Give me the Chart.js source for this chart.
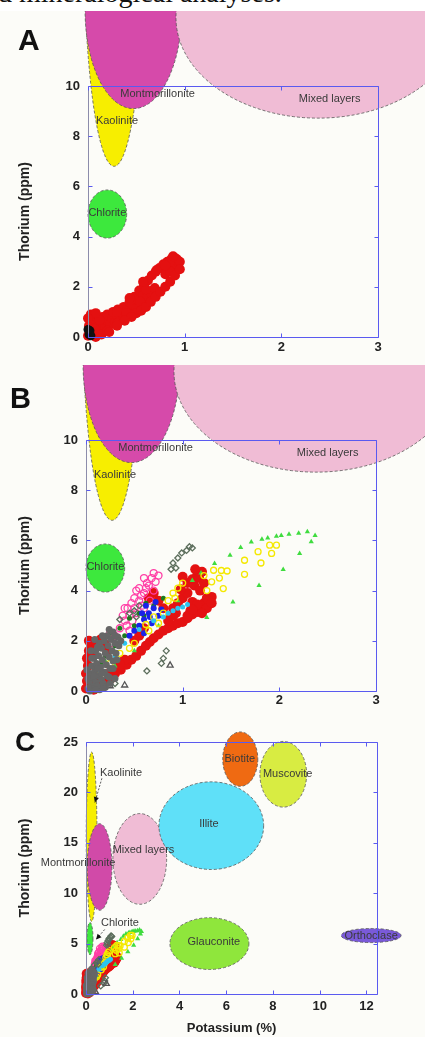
<!DOCTYPE html>
<html>
<head>
<meta charset="utf-8">
<script src="https://cdn.jsdelivr.net/npm/chart.js@4.4.1/dist/chart.umd.min.js"></script>
<style>
  html, body { margin: 0; padding: 0; width: 425px; height: 1037px; overflow: hidden; background: #fcfcf8; position: relative; }
  .strip { position: absolute; left: 0; top: 0; width: 425px; height: 11px; background: #fff; overflow: hidden; }
  .caption { position: absolute; left: -2px; top: -21px; font-family: "Liberation Serif", "Times New Roman", serif; font-size: 28px; line-height: 28px; white-space: nowrap; color: #111; }
  canvas { position: absolute; left: 0; }
  .tag { position: absolute; font-family: Arial, "Liberation Sans", sans-serif; font-weight: bold; line-height: 1; color: #111; }
</style>
</head>
<body>
<div class="strip"><div class="caption">d mineralogical analyses.</div></div>
<canvas id="panelA" width="425" height="354" style="top:11px"></canvas>
<canvas id="panelB" width="425" height="347" style="top:365px"></canvas>
<canvas id="panelC" width="425" height="330" style="top:712px"></canvas>
<div class="tag" style="left:18px; top:25px; font-size:30px">A</div>
<div class="tag" style="left:10px; top:384px; font-size:29px">B</div>
<div class="tag" style="left:15px; top:728px; font-size:28px">C</div>
<script>
// --- axis ticks ---
const kTicksAB = [0, 1, 2, 3];
const thTicksAB = [0, 2, 4, 6, 8, 10];
const kTicksC = [0, 2, 4, 6, 8, 10, 12];
const thTicksC = [0, 5, 10, 15, 20, 25];

// --- mineral fields, panels A and B (K %, Th ppm) ---
const zoneNamesAB = ['Kaolinite', 'Montmorillonite', 'Mixed layers', 'Chlorite'];
const zoneKAB = [0.27, 0.47, 2.38, 0.2];
const zoneThAB = [15.6, 13.0, 12.72, 4.9];
const zoneKRadAB = [0.31, 0.5, 1.47, 0.2];
const zoneThRadAB = [8.8, 3.9, 4.0, 0.96];
const zoneColorAB = ['#f7ee00', '#d64aaa', '#f0bcd5', '#3de83d'];
const labelKAB = [0.3, 0.72, 2.5, 0.2];
const labelThAB = [8.6, 9.7, 9.5, 4.95];

// --- mineral fields, panel C ---
const zoneNamesC = ['Kaolinite', 'Montmorillonite', 'Mixed layers', 'Illite', 'Biotite', 'Muscovite', 'Glauconite', 'Chlorite', 'Orthoclase'];
const zoneKC = [0.24, 0.58, 2.3, 5.36, 6.6, 8.44, 5.28, 0.17, 12.2];
const zoneThC = [15.6, 12.6, 13.4, 16.7, 23.3, 21.8, 5.0, 5.5, 5.8];
const zoneKRadC = [0.23, 0.53, 1.15, 2.24, 0.75, 1.0, 1.69, 0.13, 1.28];
const zoneThRadC = [8.4, 4.3, 4.5, 4.35, 2.7, 3.26, 2.57, 1.6, 0.7];
const zoneColorC = ['#f7ee00', '#d14aa8', '#f0bcd5', '#5fe0f8', '#ef6a12', '#d8ec42', '#8fe63c', '#3de83d', '#7a5ad8'];
const labelKC = [1.5, -0.34, 2.46, 5.26, 6.58, 8.63, 5.47, 1.45, 12.2];
const labelThC = [21.9, 13.0, 14.3, 16.9, 23.3, 21.8, 5.2, 7.0, 5.8];
// leader arrows [fromK, fromTh, toK, toTh]
const arrowsC = [[0.68, 21.4, 0.38, 19.0], [0.8, 6.4, 0.43, 5.4]];

// --- panel A measurements [K, Th] ---
const aRed = [
  [0.0, 0.05], [0.02, 0.25], [0.01, 0.45], [0.04, 0.15], [0.06, 0.35], [0.05, 0.55], [0.08, 0.2], [0.1, 0.45],
  [0.1, 0.7], [0.13, 0.3], [0.15, 0.55], [0.15, 0.8], [0.18, 0.4], [0.2, 0.65], [0.2, 0.9], [0.23, 0.5],
  [0.25, 0.75], [0.26, 1.0], [0.28, 0.6], [0.3, 0.85], [0.31, 1.1], [0.34, 0.7], [0.35, 0.95], [0.37, 1.2],
  [0.4, 0.85], [0.41, 1.1], [0.43, 1.4], [0.45, 1.0], [0.46, 1.3], [0.48, 1.6], [0.5, 1.15], [0.52, 1.45],
  [0.53, 1.85], [0.56, 1.35], [0.57, 1.65], [0.58, 2.05], [0.61, 1.55], [0.62, 2.25], [0.65, 1.75], [0.66, 2.45],
  [0.69, 1.95], [0.7, 2.6], [0.74, 2.75], [0.78, 2.9], [0.8, 2.5], [0.82, 3.0],
  [0.85, 2.65], [0.86, 3.1], [0.89, 2.8], [0.9, 3.15], [0.93, 3.0], [0.92, 3.1], [0.6, 1.9],
  [0.08, 0.0], [0.14, 0.1], [0.2, 0.25], [0.03, 0.7], [0.07, 0.85], [0.12, 0.68], [0.3, 1.0], [0.43, 1.55],
  [0.57, 2.2], [0.71, 2.67], [0.85, 3.0], [0.4, 0.95], [0.54, 1.4], [0.85, 2.6], [0.95, 3.0],
  [0.03, 0.9], [0.08, 0.95], [0.0, 0.75], [0.22, 0.2], [0.3, 0.55], [0.88, 3.22], [0.8, 2.85],
  [0.5, 0.95], [0.55, 1.05], [0.6, 1.2], [0.65, 1.4], [0.7, 1.6], [0.75, 1.8], [0.8, 2.0], [0.85, 2.2],
  [0.9, 2.45], [0.95, 2.7], [0.45, 0.8], [0.38, 0.65], [0.3, 0.45]
];
const aBlack = [[0.01, 0.1], [0.02, 0.25], [0.03, 0.05], [0.0, 0.3]];

// --- panels B and C measurements [K, Th] ---
const bRed = [
  [0.0, 0.1], [0.01, 0.4], [0.0, 0.7], [0.02, 1.0], [0.01, 1.3], [0.03, 1.6], [0.05, 1.85], [0.1, 1.95],
  [0.15, 2.05], [0.2, 1.85], [0.22, 1.6], [0.08, 0.05], [0.15, 0.15], [0.2, 0.35], [0.26, 0.5], [0.3, 0.7],
  [0.36, 0.85], [0.42, 1.05], [0.47, 1.25], [0.52, 1.4], [0.57, 1.6], [0.62, 1.8], [0.66, 1.95], [0.7, 2.1],
  [0.75, 2.25], [0.8, 2.4], [0.85, 2.5], [0.9, 2.6], [0.95, 2.7], [1.0, 2.75], [1.05, 2.9], [1.1, 3.05],
  [1.15, 3.15], [1.2, 3.3], [1.22, 3.5], [1.25, 3.7], [1.3, 3.75], [1.27, 3.6], [0.9, 3.3], [0.95, 3.5],
  [1.0, 3.7], [1.05, 3.9], [0.98, 4.05], [1.05, 4.3], [1.1, 4.45], [1.15, 4.6], [1.2, 4.75], [1.17, 4.5],
  [1.12, 4.2], [1.1, 3.55], [1.15, 3.45], [0.93, 3.1], [0.87, 2.95], [0.8, 3.3], [0.75, 3.6], [0.7, 3.9],
  [0.65, 3.7], [0.55, 2.2], [0.6, 2.5], [0.5, 2.0], [1.18, 4.0], [1.22, 4.3], [1.25, 3.3], [1.3, 3.5],
  [1.2, 3.1], [1.08, 3.2], [0.85, 2.8], [0.9, 3.0], [1.05, 3.0], [1.1, 3.25], [0.4, 1.25], [0.35, 1.05],
  [0.25, 0.75], [0.12, 0.45], [0.06, 0.2], [0.03, 2.0], [0.07, 1.5], [1.13, 4.85], [1.0, 4.55]
];
const bMagenta = [
  [0.3, 2.2], [0.35, 2.5], [0.4, 2.8], [0.45, 3.0], [0.5, 3.3], [0.55, 3.6], [0.6, 3.9], [0.65, 4.2],
  [0.68, 4.5], [0.72, 4.35], [0.62, 4.1], [0.52, 3.1], [0.42, 2.6], [0.38, 3.0], [0.47, 3.5], [0.57, 3.8],
  [0.33, 2.0], [0.25, 2.3], [0.6, 3.3], [0.7, 4.0], [0.75, 4.6], [0.66, 3.6], [0.28, 1.9], [0.45, 2.4],
  [0.4, 3.3], [0.5, 3.7], [0.55, 4.1], [0.6, 4.5], [0.7, 4.7], [0.63, 4.3], [0.48, 2.8], [0.58, 3.4],
  [0.43, 3.3], [0.52, 4.0]
];
const bGray = [
  [0.02, 0.1], [0.05, 0.2], [0.08, 0.1], [0.03, 0.4], [0.07, 0.5], [0.1, 0.35], [0.12, 0.2], [0.04, 0.7],
  [0.09, 0.8], [0.13, 0.6], [0.16, 0.45], [0.18, 0.3], [0.06, 1.0], [0.11, 1.1], [0.15, 0.95], [0.19, 0.75],
  [0.22, 0.6], [0.08, 1.3], [0.13, 1.4], [0.17, 1.25], [0.21, 1.05], [0.25, 0.9], [0.1, 1.6], [0.16, 1.7],
  [0.2, 1.5], [0.24, 1.35], [0.28, 1.2], [0.14, 1.9], [0.19, 2.0], [0.23, 1.8], [0.27, 1.6], [0.31, 1.5],
  [0.22, 2.2], [0.26, 2.05], [0.3, 1.9], [0.34, 1.8], [0.02, 0.5], [0.04, 0.0], [0.14, 0.05], [0.2, 0.15],
  [0.25, 0.3], [0.01, 0.85], [0.28, 2.35], [0.33, 2.15], [0.18, 0.1], [0.06, 1.3], [0.12, 1.75], [0.05, 1.6],
  [0.09, 2.05], [0.17, 2.2], [0.24, 2.45], [0.3, 2.2], [0.36, 2.0], [0.32, 1.25], [0.28, 0.9], [0.24, 0.55],
  [0.16, 0.7], [0.12, 0.9], [0.08, 0.6], [0.1, 0.05], [0.3, 0.5]
];
const bHollow = [
  [0.9, 5.1], [0.95, 5.3], [0.99, 5.5], [1.04, 5.6], [1.07, 5.75], [1.1, 5.7], [0.88, 4.85], [0.93, 4.9],
  [0.45, 3.1], [0.5, 3.2], [0.52, 2.95], [0.35, 2.85], [0.55, 3.4], [0.8, 1.3], [0.78, 1.1], [0.83, 1.6],
  [0.63, 0.8], [0.3, 0.3]
];
const bTriangle = [[0.87, 1.02], [0.4, 0.23], [0.25, 0.2]];
const bBlue = [
  [0.55, 2.6], [0.6, 2.85], [0.65, 3.1], [0.7, 3.3], [0.62, 3.4], [0.68, 2.7], [0.75, 3.0], [0.58, 3.1],
  [0.72, 3.55], [0.5, 2.4], [0.66, 2.95], [0.78, 3.25], [0.45, 2.2], [0.6, 2.3]
];
const bCyan = [
  [0.85, 3.1], [0.9, 3.2], [0.95, 3.3], [1.0, 3.35], [1.05, 3.45], [0.8, 2.95], [0.7, 2.8], [0.55, 2.45],
  [0.4, 1.9], [0.15, 0.8], [0.3, 1.4]
];
const bYellow = [
  [0.62, 2.65], [0.7, 2.95], [0.75, 2.7], [0.8, 3.1], [0.85, 3.6], [0.9, 3.9], [0.95, 4.1], [1.0, 4.3],
  [0.92, 3.7], [0.65, 2.4], [0.5, 1.9], [0.45, 1.7], [0.35, 1.5], [0.25, 1.1], [0.15, 0.7], [1.32, 4.81],
  [1.4, 4.8], [1.46, 4.78], [1.3, 4.35], [1.38, 4.5], [1.42, 4.08], [1.64, 5.21], [1.64, 4.65], [1.78, 5.55],
  [1.81, 5.1], [1.9, 5.81], [1.97, 5.81], [1.92, 5.48], [1.25, 4.0], [1.22, 4.6]
];
const bGreen = [
  [1.49, 5.41], [1.6, 5.72], [1.71, 5.94], [1.82, 6.05], [1.88, 6.1], [1.97, 6.17], [2.02, 6.2], [2.1, 6.25],
  [2.2, 6.28], [2.29, 6.34], [2.37, 6.2], [2.33, 5.95], [2.21, 5.48], [2.04, 4.84], [1.79, 4.2], [1.52, 3.55],
  [1.25, 2.93], [1.33, 5.08], [1.19, 4.7], [1.1, 4.4], [0.95, 3.6], [0.75, 2.6], [0.5, 1.6], [0.3, 1.0],
  [0.15, 0.6], [0.05, 0.3], [0.2, 1.2], [0.1, 0.9]
];
const bDarkGreen = [
  [0.3, 1.8], [0.4, 2.2], [0.5, 2.6], [0.6, 3.0], [0.7, 3.4], [0.55, 3.1], [0.45, 2.9], [0.35, 2.5],
  [0.25, 2.3], [0.62, 3.5], [0.8, 3.7], [0.2, 1.4], [0.15, 1.1]
];

const FONT = 'Arial, "Liberation Sans", Helvetica, sans-serif';

function pts(list) {
  return list.map(([x, y]) => ({ x, y }));
}

function series(list, color, radius, style, hollow) {
  return {
    data: pts(list),
    clip: false,
    pointStyle: style || 'circle',
    pointRadius: radius,
    pointBackgroundColor: hollow ? 'rgba(0,0,0,0)' : color,
    pointBorderColor: color,
    pointBorderWidth: hollow ? 1.3 : 0
  };
}

function bDatasets() {
  // first in list is drawn on top
  return [
    series(bGray, '#666666', 3.5),
    series(bTriangle, '#555555', 3.5, 'triangle', true),
    series(bHollow, '#5c6e5c', 3, 'rectRot', true),
    series(bCyan, '#2cc4f0', 2.5),
    series(bYellow, '#f4e800', 3, 'circle', true),
    series(bGreen, '#3fdc3f', 3, 'triangle'),
    series(bBlue, '#1a22e8', 3),
    series(bDarkGreen, '#1d7a1d', 2.5),
    series(bMagenta, '#ff3fa6', 3.5, 'circle', true),
    series(bRed, '#e41212', 5)
  ];
}

function drawZones(chart, z) {
  const { ctx, scales: { x, y } } = chart;
  ctx.save();
  z.names.forEach((n, i) => {
    const px = x.getPixelForValue(z.k[i]);
    const py = y.getPixelForValue(z.th[i]);
    const rx = Math.abs(x.getPixelForValue(z.k[i] + z.kr[i]) - px);
    const ry = Math.abs(y.getPixelForValue(z.th[i] + z.thr[i]) - py);
    ctx.beginPath();
    ctx.ellipse(px, py, rx, ry, 0, 0, Math.PI * 2);
    ctx.fillStyle = z.colors[i];
    ctx.fill();
    ctx.setLineDash([3, 2]);
    ctx.strokeStyle = '#555';
    ctx.lineWidth = 0.8;
    ctx.stroke();
  });
  ctx.restore();
}

function drawFrame(chart) {
  const { ctx, chartArea: a, scales: { x, y } } = chart;
  const L = Math.round(a.left) + 0.5, R = Math.round(a.right) + 0.5;
  const T = Math.round(a.top) + 0.5, B = Math.round(a.bottom) + 0.5;
  ctx.save();
  ctx.setLineDash([]);
  ctx.lineWidth = 1;
  ctx.strokeStyle = '#5a5af0';
  ctx.beginPath();
  ctx.moveTo(L, T); ctx.lineTo(R, T); ctx.lineTo(R, B); ctx.lineTo(L, B);
  ctx.stroke();
  ctx.strokeStyle = '#8c8cab';
  ctx.beginPath();
  ctx.moveTo(L, T); ctx.lineTo(L, B);
  ctx.stroke();
  ctx.strokeStyle = '#5a5af0';
  ctx.beginPath();
  x.ticks.forEach(t => {
    const p = Math.round(x.getPixelForValue(t.value)) + 0.5;
    ctx.moveTo(p, B); ctx.lineTo(p, B - 4);
    ctx.moveTo(p, T); ctx.lineTo(p, T + 4);
  });
  y.ticks.forEach(t => {
    const p = Math.round(y.getPixelForValue(t.value)) + 0.5;
    ctx.moveTo(L, p); ctx.lineTo(L + 4, p);
    ctx.moveTo(R, p); ctx.lineTo(R - 4, p);
  });
  ctx.stroke();
  ctx.restore();
}

function drawLabels(chart, z, arrows) {
  const { ctx, scales: { x, y } } = chart;
  ctx.save();
  ctx.font = '11px ' + FONT;
  ctx.fillStyle = '#3a3a3a';
  ctx.textAlign = 'center';
  ctx.textBaseline = 'middle';
  z.names.forEach((n, i) => {
    ctx.fillText(n, x.getPixelForValue(z.lk[i]), y.getPixelForValue(z.lth[i]));
  });
  (arrows || []).forEach(([k0, t0, k1, t1]) => {
    const x0 = x.getPixelForValue(k0), y0 = y.getPixelForValue(t0);
    const x1 = x.getPixelForValue(k1), y1 = y.getPixelForValue(t1);
    ctx.strokeStyle = '#333';
    ctx.lineWidth = 0.8;
    ctx.setLineDash([2, 1.5]);
    ctx.beginPath();
    ctx.moveTo(x0, y0); ctx.lineTo(x1, y1);
    ctx.stroke();
    const ang = Math.atan2(y1 - y0, x1 - x0);
    ctx.setLineDash([]);
    ctx.fillStyle = '#111';
    ctx.beginPath();
    ctx.moveTo(x1, y1);
    ctx.lineTo(x1 - 6 * Math.cos(ang - 0.45), y1 - 6 * Math.sin(ang - 0.45));
    ctx.lineTo(x1 - 6 * Math.cos(ang + 0.45), y1 - 6 * Math.sin(ang + 0.45));
    ctx.closePath();
    ctx.fill();
  });
  ctx.restore();
}

function makePanel(id, cfg) {
  const overlay = {
    id: 'overlay',
    beforeDatasetsDraw(chart) { drawZones(chart, cfg.zones); },
    afterDatasetsDraw(chart) {
      drawFrame(chart);
      drawLabels(chart, cfg.zones, cfg.arrows);
    }
  };
  const tickFont = { family: FONT, size: 13, weight: 'bold' };
  return new Chart(document.getElementById(id), {
    type: 'scatter',
    data: { datasets: cfg.datasets },
    options: {
      responsive: false,
      animation: false,
      devicePixelRatio: 1,
      events: [],
      layout: { padding: cfg.padding },
      plugins: { legend: { display: false }, tooltip: { enabled: false } },
      scales: {
        x: {
          type: 'linear',
          min: 0,
          max: cfg.kMax,
          grid: { display: false, drawTicks: false },
          border: { display: false },
          afterBuildTicks: s => { s.ticks = cfg.kTicks.map(v => ({ value: v })); },
          afterFit: s => { s.height = cfg.xAxisH; },
          ticks: { font: tickFont, color: '#222', padding: cfg.xPad, maxRotation: 0, autoSkip: false },
          title: {
            display: !!cfg.kTitle,
            text: 'Potassium (%)',
            color: '#222',
            font: { family: FONT, size: 13, weight: 'bold' },
            padding: { top: 0, bottom: 6 }
          }
        },
        y: {
          type: 'linear',
          min: 0,
          max: cfg.thMax,
          grid: { display: false, drawTicks: false },
          border: { display: false },
          afterBuildTicks: s => { s.ticks = cfg.thTicks.map(v => ({ value: v })); },
          afterFit: s => { s.width = cfg.yAxisW; },
          ticks: { font: tickFont, color: '#222', padding: 8, autoSkip: false },
          title: {
            display: true,
            text: 'Thorium (ppm)',
            color: '#222',
            font: { family: FONT, size: 14, weight: 'bold' },
            padding: { top: 16.6, bottom: 0 }
          }
        }
      }
    },
    plugins: [overlay]
  });
}

const zonesAB = {
  names: zoneNamesAB, k: zoneKAB, th: zoneThAB, kr: zoneKRadAB, thr: zoneThRadAB,
  colors: zoneColorAB, lk: labelKAB, lth: labelThAB
};
const zonesC = {
  names: zoneNamesC, k: zoneKC, th: zoneThC, kr: zoneKRadC, thr: zoneThRadC,
  colors: zoneColorC, lk: labelKC, lth: labelThC
};

makePanel('panelA', {
  datasets: [series(aBlack, '#111111', 4.5), series(aRed, '#e41010', 5)],
  zones: zonesAB,
  kMax: 3, thMax: 10, kTicks: kTicksAB, thTicks: thTicksAB,
  padding: { top: 75, right: 47, left: 0, bottom: 0 },
  yAxisW: 88, xAxisH: 28, xPad: 3
});

makePanel('panelB', {
  datasets: bDatasets(),
  zones: zonesAB,
  kMax: 3, thMax: 10, kTicks: kTicksAB, thTicks: thTicksAB,
  padding: { top: 75, right: 49, left: 0, bottom: 0 },
  yAxisW: 86, xAxisH: 21, xPad: 2
});

makePanel('panelC', {
  datasets: bDatasets(),
  zones: zonesC,
  arrows: arrowsC,
  kMax: 12.45, thMax: 25, kTicks: kTicksC, thTicks: thTicksC,
  padding: { top: 30, right: 48, left: 0, bottom: 0 },
  yAxisW: 86, xAxisH: 48, xPad: 5, kTitle: true
});
</script>
</body>
</html>
